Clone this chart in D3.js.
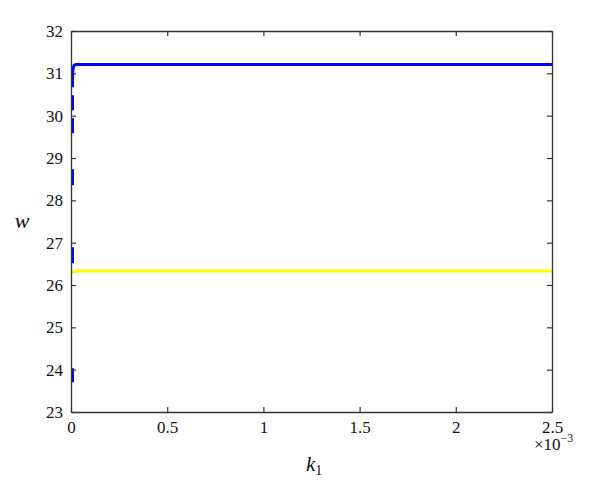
<!DOCTYPE html>
<html>
<head>
<meta charset="utf-8">
<script src="https://cdn.jsdelivr.net/npm/d3@7"></script>
<style>
  html, body { margin: 0; padding: 0; background: #fff; }
  svg { display: block; }
  svg text { font-family: "Liberation Serif", "Times New Roman", serif !important; fill: #111; }
</style>
</head>
<body>
<svg id="chart" width="600" height="490"></svg>
<script>
// k1 values are in units of 1e-3
const xTicks = [0, 0.5, 1, 1.5, 2, 2.5];
const yTicks = [23, 24, 25, 26, 27, 28, 29, 30, 31, 32];
const blueK1 = [0.0078, 0.0078, 0.0080, 0.0090, 0.0115, 0.0160, 0.0250, 2.5];
const blueW  = [23.7, 30.55, 30.85, 31.02, 31.13, 31.19, 31.21, 31.21];
const yellowK1 = [0, 0.01, 0.03, 2.5];
const yellowW  = [26.28, 26.31, 26.33, 26.33];

const W = 600, H = 490;
const m = { left: 71, right: 48, top: 31, bottom: 78 };
const svg = d3.select("#chart");

const x = d3.scaleLinear().domain([0, 2.5]).range([m.left, W - m.right]);
const y = d3.scaleLinear().domain([23, 32]).range([H - m.bottom, m.top]);

const axisColor = "#333";
const fmt = d => d3.format("")(d);
const serif = "'Liberation Serif', 'Times New Roman', serif";

// lines
const line = d3.line().x(d => x(d[0])).y(d => y(d[1]));
const plot = svg.append("g");
plot.append("path")
  .datum(yellowK1.map((k, i) => [k, yellowW[i]]))
  .attr("d", line)
  .attr("fill", "none")
  .attr("stroke", "#ffff00")
  .attr("stroke-width", 3);
plot.append("path")
  .datum(blueK1.map((k, i) => [k, blueW[i]]))
  .attr("d", line)
  .attr("fill", "none")
  .attr("stroke", "#0000ff")
  .attr("stroke-width", 3)
  .attr("stroke-dasharray", "14,105,16,62,16,36,15,8,15,8,10000");

// axes
const gx = svg.append("g").attr("transform", `translate(0,${H - m.bottom})`)
  .call(d3.axisBottom(x).tickValues(xTicks).tickFormat(fmt).tickSizeInner(-5).tickSizeOuter(0).tickPadding(9));
const gy = svg.append("g").attr("transform", `translate(${m.left},0)`)
  .call(d3.axisLeft(y).tickValues(yTicks).tickFormat(fmt).tickSizeInner(-5).tickSizeOuter(0).tickPadding(8));
const gt = svg.append("g").attr("transform", `translate(0,${m.top})`)
  .call(d3.axisTop(x).tickValues(xTicks).tickFormat("").tickSizeInner(-5).tickSizeOuter(0));
const gr = svg.append("g").attr("transform", `translate(${W - m.right},0)`)
  .call(d3.axisRight(y).tickValues(yTicks).tickFormat("").tickSizeInner(-5).tickSizeOuter(0));

[gx, gy, gt, gr].forEach(g => {
  g.attr("font-family", serif).attr("font-size", 17);
  g.select(".domain").attr("stroke", axisColor).attr("stroke-width", 1.3);
  g.selectAll(".tick line").attr("stroke", axisColor).attr("stroke-width", 1.2);
  g.selectAll(".tick text").attr("font-family", serif).attr("font-size", 17).attr("fill", "#111");
});

// axis labels
svg.append("text")
  .attr("x", 22).attr("y", 228)
  .attr("text-anchor", "middle")
  .attr("font-family", serif)
  .attr("font-size", 22).attr("font-style", "italic")
  .text("w");

const kl = svg.append("text")
  .attr("x", 306).attr("y", 471)
  .attr("font-family", serif)
  .attr("font-size", 21);
kl.append("tspan").attr("font-style", "italic").text("k");
kl.append("tspan").attr("font-size", 14).attr("dy", 4).text("1");

const ex = svg.append("text")
  .attr("x", 534).attr("y", 450)
  .attr("font-family", serif)
  .attr("font-size", 17);
ex.append("tspan").text("×10");
ex.append("tspan").attr("font-size", 12).attr("dy", -8).text("−3");
</script>
</body>
</html>
